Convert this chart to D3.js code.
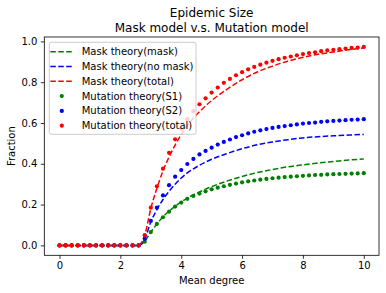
<!DOCTYPE html>
<html>
<head>
<meta charset="utf-8">
<script src="https://cdn.jsdelivr.net/npm/d3@7"></script>
<style>
  body { margin: 0; background: #fff; }
  svg { display: block; font-family: "DejaVu Sans", sans-serif; }
</style>
</head>
<body>
<svg id="chart" width="386" height="293"></svg>
<script>
// mean degree grid used by the mutation model (dots)
const DOT_X = [
  0, 0.2, 0.4, 0.6, 0.8, 1, 1.2, 1.4, 1.6, 1.8, 2, 2.2, 2.4, 2.6, 2.8, 3, 3.2,
  3.4, 3.6, 3.8, 4, 4.2, 4.4, 4.6, 4.8, 5, 5.2, 5.4, 5.6, 5.8, 6, 6.2, 6.4,
  6.6, 6.8, 7, 7.2, 7.4, 7.6, 7.8, 8, 8.2, 8.4, 8.6, 8.8, 9, 9.2, 9.4, 9.6,
  9.8, 10,
];
const MUT_S1 = [
  0, 0, 0, 0, 0, 0, 0, 0, 0, 0, 0, 0, 0, 0, 0.018, 0.065, 0.105, 0.138, 0.165,
  0.19, 0.21, 0.228, 0.242, 0.254, 0.265, 0.275, 0.283, 0.29, 0.297, 0.303,
  0.309, 0.314, 0.318, 0.322, 0.326, 0.329, 0.332, 0.335, 0.337, 0.339, 0.341,
  0.343, 0.345, 0.346, 0.348, 0.349, 0.35, 0.351, 0.352, 0.353, 0.354,
];
const MUT_S2 = [
  0, 0, 0, 0, 0, 0, 0, 0, 0, 0, 0, 0, 0, 0, 0.032, 0.12, 0.185, 0.245, 0.295,
  0.337, 0.369, 0.399, 0.424, 0.446, 0.463, 0.479, 0.494, 0.507, 0.519, 0.531,
  0.54, 0.549, 0.557, 0.564, 0.57, 0.576, 0.581, 0.585, 0.589, 0.593, 0.597,
  0.6, 0.602, 0.606, 0.608, 0.61, 0.612, 0.614, 0.616, 0.617, 0.619,
];
const MUT_TOTAL = [
  0, 0, 0, 0, 0, 0, 0, 0, 0, 0, 0, 0, 0, 0, 0.05, 0.185, 0.29, 0.376, 0.454,
  0.52, 0.57, 0.619, 0.658, 0.692, 0.721, 0.749, 0.774, 0.797, 0.816, 0.834,
  0.849, 0.863, 0.875, 0.886, 0.896, 0.905, 0.913, 0.92, 0.926, 0.932, 0.938,
  0.943, 0.947, 0.952, 0.956, 0.959, 0.962, 0.965, 0.968, 0.97, 0.973,
];

// mask model theory curves
const LINE_X = [
  0, 2.6, 2.8, 3, 3.2, 3.4, 3.6, 3.8, 4, 4.2, 4.4, 4.6, 4.8, 5, 5.5, 6, 6.5,
  7, 7.5, 8, 8.5, 9, 9.5, 10,
];
const MASK_MASK = [
  0, 0, 0.02, 0.065, 0.105, 0.14, 0.168, 0.192, 0.213, 0.232, 0.248, 0.262,
  0.276, 0.288, 0.315, 0.338, 0.357, 0.372, 0.385, 0.395, 0.404, 0.411, 0.418,
  0.424,
];
const MASK_NOMASK = [
  0, 0, 0.03, 0.115, 0.175, 0.225, 0.265, 0.3, 0.33, 0.355, 0.375, 0.393,
  0.408, 0.422, 0.45, 0.474, 0.493, 0.507, 0.518, 0.527, 0.533, 0.537, 0.541,
  0.544,
];
const MASK_TOTAL = [
  0, 0, 0.05, 0.18, 0.28, 0.365, 0.433, 0.492, 0.543, 0.587, 0.623, 0.655,
  0.684, 0.71, 0.765, 0.812, 0.85, 0.879, 0.903, 0.922, 0.937, 0.948, 0.959,
  0.968,
];

const X_TICKS = [0, 2, 4, 6, 8, 10];
const Y_TICKS = [0, 0.2, 0.4, 0.6, 0.8, 1.0];

const lineSeries = [
  { label: 'Mask theory(mask)', values: MASK_MASK, colour: '#008000' },
  { label: 'Mask theory(no mask)', values: MASK_NOMASK, colour: '#0000ff' },
  { label: 'Mask theory(total)', values: MASK_TOTAL, colour: '#ff0000' },
];
const dotSeries = [
  { label: 'Mutation theory(S1)', values: MUT_S1, colour: '#008000' },
  { label: 'Mutation theory(S2)', values: MUT_S2, colour: '#0000ff' },
  { label: 'Mutation theory(total)', values: MUT_TOTAL, colour: '#ff0000' },
];

const plot = { left: 44.3, right: 379, top: 37, bottom: 255.3 };
const svg = d3.select('#chart');

// matplotlib style 5% margins on both axes
const xExt = d3.extent(DOT_X);
const xPad = (xExt[1] - xExt[0]) * 0.05;
const yMax = d3.max(dotSeries.concat(lineSeries), (s) => d3.max(s.values));
const yPad = yMax * 0.05;

const x = d3.scaleLinear()
  .domain([xExt[0] - xPad, xExt[1] + xPad])
  .range([plot.left, plot.right]);
const y = d3.scaleLinear()
  .domain([-yPad, yMax + yPad])
  .range([plot.bottom, plot.top]);

svg.append('defs').append('clipPath')
  .attr('id', 'clip')
  .append('rect')
  .attr('x', plot.left)
  .attr('y', plot.top)
  .attr('width', plot.right - plot.left)
  .attr('height', plot.bottom - plot.top);

const body = svg.append('g').attr('clip-path', 'url(#clip)');

const line = d3.line()
  .x((d) => x(d[0]))
  .y((d) => y(d[1]))
  .curve(d3.curveMonotoneX);

lineSeries.forEach((s) => {
  body.append('path')
    .datum(LINE_X.map((v, i) => [v, s.values[i]]))
    .attr('d', line)
    .attr('fill', 'none')
    .attr('stroke', s.colour)
    .attr('stroke-width', 1.5)
    .attr('stroke-dasharray', '5.55,2.4');
});

dotSeries.forEach((s) => {
  body.append('g')
    .selectAll('circle')
    .data(DOT_X.map((v, i) => [v, s.values[i]]))
    .join('circle')
    .attr('cx', (d) => x(d[0]))
    .attr('cy', (d) => y(d[1]))
    .attr('r', 2.1)
    .attr('fill', s.colour);
});

// axes
const xAxis = d3.axisBottom(x)
  .tickValues(X_TICKS)
  .tickSize(3.5)
  .tickPadding(3.5)
  .tickFormat(d3.format('d'));
const yAxis = d3.axisLeft(y)
  .tickValues(Y_TICKS)
  .tickSize(3.5)
  .tickPadding(3.5)
  .tickFormat(d3.format('.1f'));

function styleAxis(g) {
  g.select('.domain').remove();
  g.selectAll('.tick line').attr('stroke', '#000').attr('stroke-width', 0.8);
  g.selectAll('.tick text')
    .attr('fill', '#000')
    .style('font-size', '10px')
    .style('font-family', '"DejaVu Sans", sans-serif');
}

svg.append('g')
  .attr('transform', `translate(0,${plot.bottom})`)
  .call(xAxis)
  .call(styleAxis);
svg.append('g')
  .attr('transform', `translate(${plot.left},0)`)
  .call(yAxis)
  .call(styleAxis);

svg.append('rect')
  .attr('x', plot.left)
  .attr('y', plot.top)
  .attr('width', plot.right - plot.left)
  .attr('height', plot.bottom - plot.top)
  .attr('fill', 'none')
  .attr('stroke', '#000')
  .attr('stroke-width', 0.8);

// labels and title
const midX = (plot.left + plot.right) / 2;
svg.append('text')
  .attr('x', midX)
  .attr('y', 284)
  .attr('text-anchor', 'middle')
  .style('font-size', '10px')
  .text('Mean degree');
svg.append('text')
  .attr('transform', `translate(15,${(plot.top + plot.bottom) / 2}) rotate(-90)`)
  .attr('text-anchor', 'middle')
  .style('font-size', '10px')
  .text('Fraction');

const title = svg.append('text')
  .attr('x', midX)
  .attr('text-anchor', 'middle')
  .style('font-size', '12px');
title.append('tspan').attr('x', midX).attr('y', 17.3).text('Epidemic Size');
title.append('tspan').attr('x', midX).attr('y', 31.7).text('Mask model v.s. Mutation model');

// legend
const legend = svg.append('g').attr('transform', 'translate(49.3,42.3)');
legend.append('rect')
  .attr('width', 146.7)
  .attr('height', 92)
  .attr('rx', 2)
  .attr('fill', '#fff')
  .attr('fill-opacity', 0.8)
  .attr('stroke', '#cccccc')
  .attr('stroke-width', 1);

const rowH = 14.8;
lineSeries.concat(dotSeries).forEach((s, i) => {
  const cy = 9.4 + i * rowH;
  if (i < lineSeries.length) {
    legend.append('line')
      .attr('x1', 1)
      .attr('x2', 24)
      .attr('y1', cy)
      .attr('y2', cy)
      .attr('stroke', s.colour)
      .attr('stroke-width', 1.5)
      .attr('stroke-dasharray', '5.55,2.4');
  } else {
    legend.append('circle')
      .attr('cx', 12.5)
      .attr('cy', cy)
      .attr('r', 2.1)
      .attr('fill', s.colour);
  }
  legend.append('text')
    .attr('x', 32.4)
    .attr('y', cy)
    .attr('dy', '0.35em')
    .style('font-size', '10px')
    .text(s.label);
});
</script>
</body>
</html>
